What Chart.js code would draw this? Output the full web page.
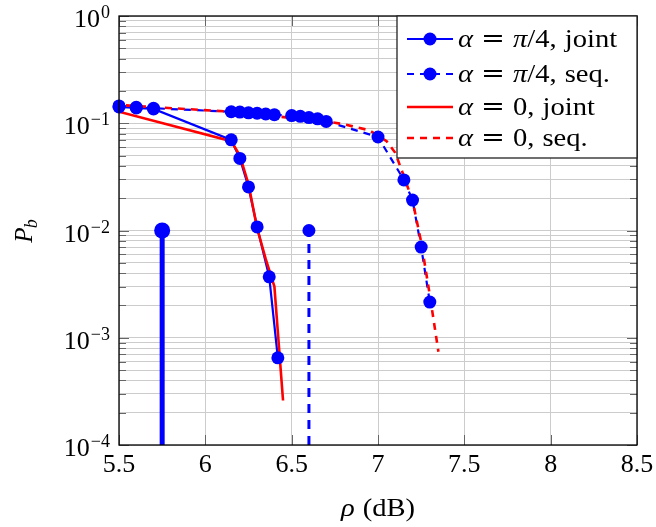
<!DOCTYPE html>
<html>
<head>
<meta charset="utf-8">
<script src="https://cdn.jsdelivr.net/npm/chart.js@4.4.0/dist/chart.umd.min.js"></script>
<style>
  html, body { margin: 0; padding: 0; background: #fff; }
</style>
</head>
<body>
<canvas id="chart" width="656" height="527"></canvas>
<script>
// axis ticks
const rhoTicks = [5.5, 6, 6.5, 7, 7.5, 8, 8.5];
const pbDecades = [-4, -3, -2, -1, 0];

// alpha = pi/4, joint
const rhoJointPi4 = [5.5, 5.6, 5.7, 6.15, 6.2, 6.25, 6.3, 6.37, 6.42];
const pbJointPi4 = [0.142, 0.139, 0.136, 0.070, 0.047, 0.0255, 0.0108, 0.0037, 0.00065];

// alpha = pi/4, sequential
const rhoSeqPi4 = [5.5, 5.6, 5.7, 6.15, 6.2, 6.25, 6.3, 6.35, 6.4, 6.5, 6.55, 6.6, 6.65, 6.7, 7.0, 7.15, 7.2, 7.25, 7.3];
const pbSeqPi4 = [0.145, 0.141, 0.138, 0.128, 0.127, 0.125, 0.124, 0.122, 0.120, 0.118, 0.116, 0.113, 0.110, 0.104, 0.0744, 0.0296, 0.0192, 0.0070, 0.00215];

// alpha = 0, joint
const rhoJoint0 = [5.5, 6.15, 6.2, 6.25, 6.3, 6.35, 6.4, 6.45];
const pbJoint0 = [0.128, 0.068, 0.050, 0.027, 0.0105, 0.0054, 0.0030, 0.00026];

// alpha = 0, sequential
const rhoSeq0 = [5.5, 6.15, 6.7, 6.8, 6.95, 7.05, 7.1, 7.15, 7.2, 7.25, 7.3, 7.35];
const pbSeq0 = [0.148, 0.128, 0.104, 0.098, 0.086, 0.068, 0.053, 0.032, 0.019, 0.0078, 0.0025, 0.00074];

// vertical reference lines
const rhoRefJoint = [5.75, 5.75];
const pbRefJoint = [1e-4, 1e-2];
const rhoRefSeq = [6.6, 6.6];
const pbRefSeq = [1e-4, 1e-2];

const seriesNames = ['α = π/4, joint', 'α = π/4, seq.', 'α = 0, joint', 'α = 0, seq.'];

const SERIF = '"Liberation Serif", "DejaVu Serif", serif';
const BLUE = '#0000ff';
const RED = '#ff0000';
const FS = 26;
const WIDEN = 1.1; // latex text runs a bit wider than Liberation

const pts = (xs, ys) => xs.map((x, i) => ({ x, y: ys[i] }));

// text with greek letters in italic, math-ish spacing round '='
function mathRuns(ctx, text, size) {
  const runs = [];
  for (const ch of text) {
    let font = size + 'px ' + SERIF;
    if (/[α-ωΑ-Ω]/.test(ch)) font = 'italic ' + font;
    if (ch === '=') font = size + 'px "DejaVu Serif", serif';
    ctx.font = font;
    const w = ch === ' ' ? size * 0.28 : ctx.measureText(ch).width;
    runs.push({ ch, font, w });
  }
  return runs;
}
function drawMath(ctx, text, x, y, size, align) {
  const runs = mathRuns(ctx, text, size);
  const total = runs.reduce((s, r) => s + r.w, 0);
  ctx.save();
  ctx.translate(x - (align === 'center' ? total * WIDEN / 2 : 0), y);
  ctx.scale(WIDEN, 1);
  let cx = 0;
  runs.forEach(r => {
    ctx.font = r.font;
    if (r.ch !== ' ') ctx.fillText(r.ch, cx, 0);
    cx += r.w;
  });
  ctx.restore();
}

const decor = {
  id: 'decor',
  afterDraw(chart) {
    const { ctx, chartArea: a, scales: { x, y } } = chart;
    ctx.save();

    // inner tick marks
    ctx.strokeStyle = '#666';
    ctx.lineWidth = 1;
    ctx.beginPath();
    rhoTicks.forEach(v => {
      const px = Math.round(x.getPixelForValue(v)) + 0.5;
      ctx.moveTo(px, a.bottom); ctx.lineTo(px, a.bottom - 10);
      ctx.moveTo(px, a.top); ctx.lineTo(px, a.top + 10);
    });
    y.ticks.forEach(t => {
      const py = Math.round(y.getPixelForValue(t.value)) + 0.5;
      const len = t.major ? 10 : 7;
      ctx.moveTo(a.left, py); ctx.lineTo(a.left + len, py);
      ctx.moveTo(a.right, py); ctx.lineTo(a.right - len, py);
    });
    ctx.stroke();

    // frame
    ctx.strokeStyle = '#000';
    ctx.lineWidth = 1.3;
    ctx.strokeRect(a.left, a.top, a.right - a.left, a.bottom - a.top);

    // y tick labels 10^k
    ctx.fillStyle = '#000';
    ctx.textBaseline = 'alphabetic';
    ctx.textAlign = 'left';
    pbDecades.forEach(k => {
      const py = y.getPixelForValue(Math.pow(10, k));
      const exp = k < 0 ? '\u2212' + (-k) : String(k);
      ctx.font = '18px ' + SERIF;
      const ew = ctx.measureText(exp).width;
      ctx.font = FS + 'px ' + SERIF;
      const bw = ctx.measureText('10').width;
      const right = a.left - 9;
      ctx.fillText('10', right - ew - bw - 1, py + 11);
      ctx.font = '18px ' + SERIF;
      ctx.fillText(exp, right - ew, py + 2);
    });

    // axis titles
    drawMath(ctx, 'ρ (dB)', (a.left + a.right) / 2, 516, FS, 'center');

    ctx.save();
    ctx.translate(32, (a.top + a.bottom) / 2);
    ctx.rotate(-Math.PI / 2);
    ctx.font = 'italic 25px ' + SERIF;
    const pw = ctx.measureText('P').width;
    ctx.font = 'italic 18px ' + SERIF;
    const bw2 = ctx.measureText('b').width;
    const x0 = -(pw + bw2) / 2;
    ctx.font = 'italic 25px ' + SERIF;
    ctx.fillText('P', x0, 0);
    ctx.font = 'italic 18px ' + SERIF;
    ctx.fillText('b', x0 + pw - 1, 5);
    ctx.restore();

    // legend
    const lw = 240, lh = 142;
    const lx = a.right - lw, ly = a.top;
    ctx.fillStyle = '#fff';
    ctx.fillRect(lx, ly, lw, lh);
    ctx.strokeStyle = '#222';
    ctx.lineWidth = 1.3;
    ctx.strokeRect(lx, ly, lw, lh);
    const rows = [23, 58, 91, 122];
    const styles = [
      { color: BLUE, dash: [], mark: true, w: 2.2 },
      { color: BLUE, dash: [7, 6], mark: true, w: 2.2 },
      { color: RED, dash: [], mark: false, w: 2.6 },
      { color: RED, dash: [7, 6], mark: false, w: 2.6 },
    ];
    rows.forEach((ry, i) => {
      const s = styles[i];
      const cy = ly + ry;
      ctx.strokeStyle = s.color;
      ctx.lineWidth = s.w;
      ctx.setLineDash(s.dash);
      ctx.lineDashOffset = 0;
      ctx.beginPath();
      ctx.moveTo(lx + 10, cy); ctx.lineTo(lx + 56, cy);
      ctx.stroke();
      ctx.setLineDash([]);
      if (s.mark) {
        ctx.fillStyle = s.color;
        ctx.beginPath();
        ctx.arc(lx + 33, cy, 6.5, 0, Math.PI * 2);
        ctx.fill();
      }
      ctx.fillStyle = '#000';
      drawMath(ctx, seriesNames[i], lx + 61, cy + 8, FS);
    });

    ctx.restore();
  }
};

const lineDs = (xs, ys, color, width, dash, order, offset) => ({
  data: pts(xs, ys),
  borderColor: color,
  borderWidth: width,
  borderDash: dash,
  borderDashOffset: offset || 0,
  pointRadius: 0,
  tension: 0,
  fill: false,
  order: order,
});
const markDs = (xs, ys) => ({
  data: pts(xs, ys),
  showLine: false,
  pointRadius: 6.5,
  pointBackgroundColor: BLUE,
  pointBorderWidth: 0,
  clip: 10,
  order: 1,
});

new Chart(document.getElementById('chart'), {
  type: 'line',
  data: {
    datasets: [
      lineDs(rhoJointPi4, pbJointPi4, BLUE, 2.2, [], 6),
      lineDs(rhoSeqPi4, pbSeqPi4, BLUE, 2.2, [7, 6], 6),
      lineDs(rhoJoint0, pbJoint0, RED, 2.6, [], 5),
      lineDs(rhoSeq0, pbSeq0, RED, 2.6, [7, 6], 5, 6),
      markDs(rhoJointPi4, pbJointPi4),
      markDs(rhoSeqPi4, pbSeqPi4),
      {
        data: pts(rhoRefJoint, pbRefJoint),
        borderColor: BLUE, borderWidth: 5,
        pointRadius: [0, 8], pointBackgroundColor: BLUE, pointBorderWidth: 0,
        clip: 10, order: 2,
      },
      {
        data: pts(rhoRefSeq, pbRefSeq),
        borderColor: BLUE, borderWidth: 3, borderDash: [9, 7],
        pointRadius: [0, 6.5], pointBackgroundColor: BLUE, pointBorderWidth: 0,
        clip: 10, order: 2,
      },
    ],
  },
  options: {
    responsive: false,
    animation: false,
    devicePixelRatio: 1,
    layout: { padding: { top: 16, right: 19, left: 0, bottom: 0 } },
    plugins: { legend: { display: false }, tooltip: { enabled: false } },
    scales: {
      x: {
        type: 'linear',
        min: 5.5, max: 8.5,
        afterBuildTicks: s => { s.ticks = rhoTicks.map(v => ({ value: v })); },
        afterFit: s => { s.height = 82; s.paddingLeft = 0; s.paddingRight = 0; },
        ticks: {
          font: { family: SERIF, size: FS },
          color: '#000',
          padding: 5,
          maxRotation: 0,
          autoSkip: false,
          callback: v => String(v),
        },
        grid: { color: '#cccccc', lineWidth: 1, drawTicks: false },
        border: { display: false },
      },
      y: {
        type: 'logarithmic',
        min: 1e-4, max: 1,
        afterBuildTicks: s => {
          const t = [];
          pbDecades.forEach(k => {
            for (let m = 1; m <= 9; m++) {
              const v = m * Math.pow(10, k);
              if (v <= 1) t.push({ value: v, major: m === 1 });
            }
          });
          s.ticks = t;
        },
        afterFit: s => { s.width = 119; s.paddingTop = 0; s.paddingBottom = 0; },
        ticks: { display: false, autoSkip: false },
        grid: { color: '#cccccc', lineWidth: 1, drawTicks: false },
        border: { display: false },
      },
    },
  },
  plugins: [decor],
});
</script>
</body>
</html>
